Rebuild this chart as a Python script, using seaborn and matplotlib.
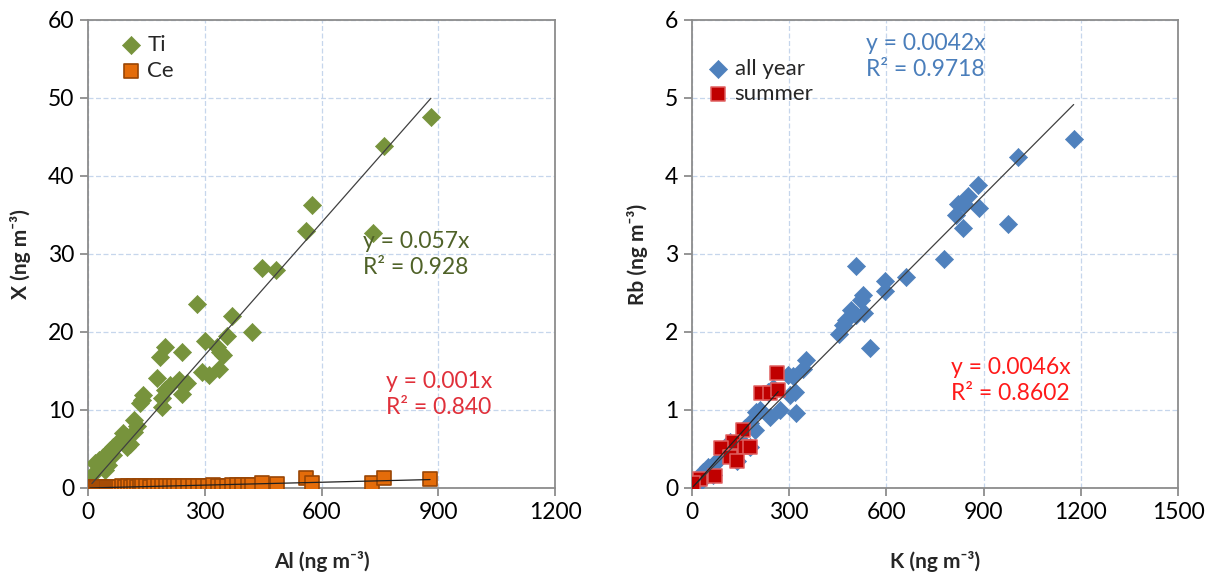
import numpy as np
import pandas as pd
import matplotlib
matplotlib.use("Agg")
import matplotlib.pyplot as plt
import seaborn as sns

# ---------------- data ----------------
ti_x = [881, 760, 576, 559, 733, 447, 484, 280, 370, 421, 301, 331, 340, 348, 357, 198, 185, 241,
        293, 310, 336, 177, 233, 254, 241, 211, 198, 190, 190, 142, 138, 134, 117, 125, 117, 91,
        100, 82, 74, 65, 57, 48, 39, 27, 18, 10, 44, 52, 100, 108, 65, 91]
ti_y = [47.6, 43.8, 36.3, 32.9, 32.7, 28.2, 27.9, 23.6, 22.0, 20.0, 18.8, 18.1, 17.5, 17.0, 19.5, 18.1, 16.8, 17.5,
        14.9, 14.5, 15.3, 14.1, 13.8, 13.4, 12.1, 13.2, 12.6, 11.5, 10.4, 11.9, 11.3, 10.9, 8.7, 7.9, 7.2, 7.0,
        6.6, 6.2, 5.7, 5.3, 4.9, 4.4, 4.0, 3.6, 3.2, 1.7, 2.3, 2.9, 5.3, 5.7, 4.2, 6.0]

ce_x = [5, 10, 15, 20, 25, 30, 35, 40, 45, 50, 55, 60, 65, 70, 75, 80, 88, 95, 102, 110,
        118, 125, 133, 140, 150, 160, 170, 180, 190, 200, 210, 220, 232, 245, 258, 270, 282, 295,
        308, 320, 333, 345, 358, 370, 383, 395, 410, 421, 447, 486, 559, 576, 730, 760, 879]
ce_y = [0.05, 0.08, 0.10, 0.06, 0.12, 0.10, 0.08, 0.15, 0.10, 0.12, 0.10, 0.15, 0.12, 0.18, 0.15, 0.12, 0.20, 0.15, 0.22, 0.18,
        0.20, 0.15, 0.25, 0.20, 0.22, 0.18, 0.25, 0.22, 0.28, 0.20, 0.25, 0.30, 0.22, 0.28, 0.25, 0.30, 0.28, 0.32,
        0.30, 0.35, 0.28, 0.32, 0.30, 0.40, 0.35, 0.38, 0.35, 0.38, 0.68, 0.47, 1.24, 0.60, 0.68, 1.24, 1.15]

all_x = [1178, 1006, 883, 886, 852, 840, 820, 816, 837, 976, 778, 661, 507, 527, 597, 597, 491, 507, 476, 466,
         455, 532, 522, 550, 353, 343, 296, 312, 317, 302, 322, 271, 240, 209, 199, 250, 235, 178, 194, 163,
         178, 148, 138, 117, 96, 81, 66, 50, 35, 138, 66, 14, 25]
all_y = [4.48, 4.24, 3.89, 3.59, 3.75, 3.64, 3.64, 3.50, 3.33, 3.39, 2.94, 2.71, 2.85, 2.47, 2.65, 2.52, 2.28, 2.22, 2.15, 2.09,
         1.98, 2.24, 2.41, 1.80, 1.64, 1.53, 1.45, 1.43, 1.23, 1.19, 0.96, 1.00, 0.91, 1.00, 0.98, 1.28, 1.23, 0.83, 0.74, 0.77,
         0.53, 0.62, 0.53, 0.59, 0.44, 0.36, 0.29, 0.27, 0.21, 0.34, 0.17, 0.06, 0.08]

sum_x = [261, 214, 240, 266, 158, 127, 163, 178, 91, 117, 138, 71, 25, 4]
sum_y = [1.48, 1.22, 1.22, 1.26, 0.74, 0.59, 0.53, 0.53, 0.51, 0.40, 0.35, 0.15, 0.12, 0.07]

left_xticks = [0, 300, 600, 900, 1200]
left_yticks = [0, 10, 20, 30, 40, 50, 60]
right_xticks = [0, 300, 600, 900, 1200, 1500]
right_yticks = [0, 1, 2, 3, 4, 5, 6]

# ---------------- style ----------------
sns.set_theme(style="white")
plt.rcParams['font.family'] = ['Lato', 'DejaVu Sans']

GRID = "#c6d6ec"
SPINE = "#8c8c8c"
GREEN = "#77933c"
ORANGE = "#e46c0a"
BLUE = "#4f81bd"
RED = "#c00000"

fig = plt.figure(figsize=(12.19, 5.81), dpi=100)
W, H = 1219, 581
ax1 = fig.add_axes([88 / W, 1 - 488 / H, (555 - 88) / W, (488 - 20) / H])
ax2 = fig.add_axes([692 / W, 1 - 488 / H, (1178 - 692) / W, (488 - 20) / H])


def origin_slope(x, y):
    x = np.asarray(x, float)
    y = np.asarray(y, float)
    return float((x * y).sum() / (x * x).sum())


def style_axes(ax, xt, yt):
    ax.set_xticks(xt)
    ax.set_yticks(yt)
    ax.set_xlim(xt[0], xt[-1])
    ax.set_ylim(yt[0], yt[-1])
    ax.grid(True, color=GRID, linestyle=(0, (4, 2)), linewidth=0.9)
    ax.set_axisbelow(True)
    for s in ax.spines.values():
        s.set_color(SPINE)
        s.set_linewidth(1.3)
        s.set_visible(True)
    ax.tick_params(axis='both', which='major', direction='out', length=6, width=1.3,
                   color=SPINE, labelsize=16.5, labelcolor='black', pad=4,
                   bottom=True, left=True)


# ---------------- left panel ----------------
df_ti = pd.DataFrame({"x": ti_x, "y": ti_y})
df_ce = pd.DataFrame({"x": ce_x, "y": ce_y})

k_ti = origin_slope(ti_x, ti_y)
k_ce = origin_slope(ce_x, ce_y)
line_ti = pd.DataFrame({"x": [min(ti_x), max(ti_x)]})
line_ti["y"] = k_ti * line_ti["x"]
line_ce = pd.DataFrame({"x": [min(ce_x), max(ce_x)]})
line_ce["y"] = k_ce * line_ce["x"]

sns.scatterplot(data=df_ti, x="x", y="y", ax=ax1, marker="D", s=85, color=GREEN,
                edgecolor=GREEN, linewidth=0.5, label="Ti", zorder=3)
sns.scatterplot(data=df_ce, x="x", y="y", ax=ax1, marker="s", s=105, color=ORANGE,
                edgecolor="#9a4604", linewidth=1.2, label="Ce", zorder=3)
sns.lineplot(data=line_ti, x="x", y="y", ax=ax1, color="#404040", linewidth=0.9, zorder=4)
sns.lineplot(data=line_ce, x="x", y="y", ax=ax1, color="#202020", linewidth=0.9, zorder=4)

style_axes(ax1, left_xticks, left_yticks)
ax1.set_xlabel("Al (ng m⁻³)", fontsize=15, fontweight='bold', labelpad=20)
ax1.set_ylabel("X (ng m⁻³)", fontsize=15, fontweight='bold', labelpad=12)

ax1.text(706, 33.0, "y = 0.057x\nR² = 0.928", color="#4f6228", fontsize=16.5,
         linespacing=1.3, va="top", ha="left", zorder=5)
ax1.text(765, 15.0, "y = 0.001x\nR² = 0.840", color="#e0303a", fontsize=16.5,
         linespacing=1.3, va="top", ha="left", zorder=5)

ax1.legend(loc="upper left", bbox_to_anchor=(0.02, 1.01), frameon=False,
           fontsize=16, handletextpad=0.15, labelspacing=0.25, markerscale=1.0,
           handlelength=1.2)

# ---------------- right panel ----------------
df_all = pd.DataFrame({"x": all_x, "y": all_y})
df_sum = pd.DataFrame({"x": sum_x, "y": sum_y})
k_all = origin_slope(all_x, all_y)
k_sum = origin_slope(sum_x, sum_y)
line_all = pd.DataFrame({"x": [min(all_x), max(all_x)]})
line_all["y"] = k_all * line_all["x"]
line_sum = pd.DataFrame({"x": [min(sum_x), max(sum_x)]})
line_sum["y"] = k_sum * line_sum["x"]

sns.scatterplot(data=df_all, x="x", y="y", ax=ax2, marker="D", s=85, color=BLUE,
                edgecolor=BLUE, linewidth=0.5, label="all year", zorder=3)
sns.scatterplot(data=df_sum, x="x", y="y", ax=ax2, marker="s", s=90, color=RED,
                edgecolor="#e06060", linewidth=1.1, label="summer", zorder=3)
sns.lineplot(data=line_all, x="x", y="y", ax=ax2, color="#404040", linewidth=0.9, zorder=4)
sns.lineplot(data=line_sum, x="x", y="y", ax=ax2, color="#202020", linewidth=0.9, zorder=4)

style_axes(ax2, right_xticks, right_yticks)
ax2.set_xlabel("K (ng m⁻³)", fontsize=15, fontweight='bold', labelpad=20)
ax2.set_ylabel("Rb (ng m⁻³)", fontsize=15, fontweight='bold', labelpad=12)

ax2.text(538, 5.83, "y = 0.0042x\nR² = 0.9718", color="#4a7ebb", fontsize=16.5,
         linespacing=1.3, va="top", ha="left", zorder=5)
ax2.text(800, 1.68, "y = 0.0046x\nR² = 0.8602", color="#ff1a1a", fontsize=16.5,
         linespacing=1.3, va="top", ha="left", zorder=5)

ax2.legend(loc="upper left", bbox_to_anchor=(-0.015, 0.96), frameon=False,
           fontsize=16, handletextpad=0.15, labelspacing=0.25, handlelength=1.2)

fig.savefig("out.png", dpi=100)
